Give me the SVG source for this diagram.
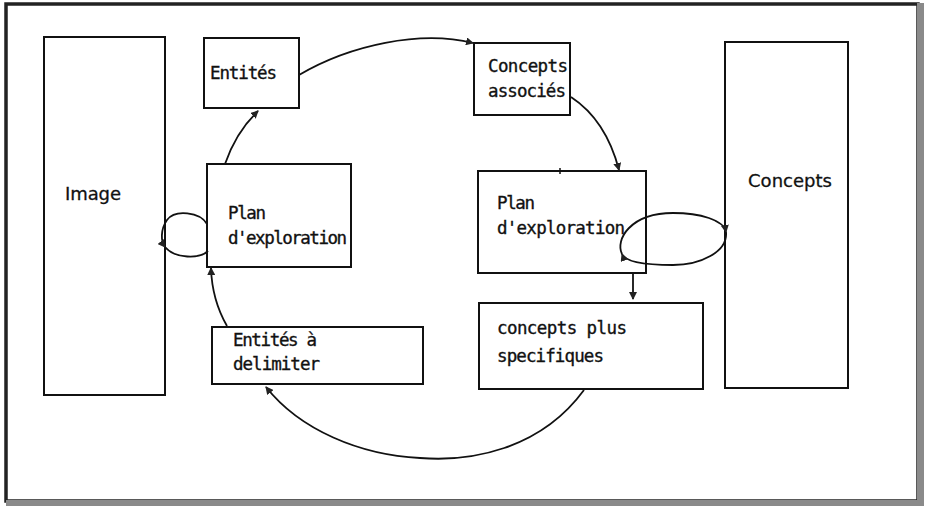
<svg xmlns="http://www.w3.org/2000/svg" width="926" height="508" viewBox="0 0 926 508">
<style>
.box{fill:#fff;stroke:#111;stroke-width:2}
.t{font-family:"DejaVu Sans Mono","Liberation Mono",monospace;font-size:17.5px;fill:#111;stroke:#111;stroke-width:0.35}
.tp{font-family:"DejaVu Sans","Liberation Sans",sans-serif;font-size:18px;fill:#111;stroke:#111;stroke-width:0.3}
.c{fill:none;stroke:#111;stroke-width:1.8}
</style>
<defs>
<marker id="ah" markerWidth="8" markerHeight="8" refX="7" refY="4" orient="auto" markerUnits="userSpaceOnUse">
<path d="M0,0 L8,4 L0,8 z" fill="#222"/>
</marker>
</defs>
<rect x="0" y="0" width="926" height="508" fill="#fff"/>
<g id="frame">
<rect x="6" y="4" width="912" height="497" fill="none" stroke="#222" stroke-width="3.5"/>
<rect x="917" y="3" width="7" height="502" fill="#8a8a8a"/>
<rect x="6" y="500" width="918" height="6" fill="#8a8a8a"/>
</g>
<g id="image"><rect class="box" x="44" y="37" width="121" height="358"/><text class="tp" x="65" y="200" textLength="56">Image</text></g>
<g id="entites"><rect class="box" x="204" y="38" width="95" height="70"/><text class="t" x="210" y="79" textLength="67">Entités</text></g>
<g id="plan-left"><rect class="box" x="207" y="164" width="144" height="103"/><text class="t" x="228" y="219" textLength="38">Plan</text><text class="t" x="228" y="244" textLength="119">d'exploration</text></g>
<g id="concepts-associes"><rect class="box" x="474" y="43" width="96" height="72"/><text class="t" x="488" y="72" textLength="80">Concepts</text><text class="t" x="488" y="97" textLength="78">associés</text></g>
<g id="plan-right"><rect class="box" x="478" y="171" width="168" height="102"/><line x1="560" y1="168" x2="560" y2="174" stroke="#111" stroke-width="1.5"/><text class="t" x="497" y="209" textLength="38">Plan</text><text class="t" x="497" y="234" textLength="128">d'exploration</text></g>
<g id="concepts"><rect class="box" x="725" y="42" width="123" height="346"/><text class="tp" x="748" y="187" textLength="84">Concepts</text></g>
<g id="concepts-plus"><rect class="box" x="479" y="303" width="224" height="86"/><text class="t" x="497" y="334" textLength="130">concepts plus</text><text class="t" x="497" y="362" textLength="107">specifiques</text></g>
<g id="entites-delimiter"><rect class="box" x="212" y="327" width="211" height="57"/><text class="t" x="233" y="346" textLength="84">Entités à</text><text class="t" x="233" y="370" textLength="87">delimiter</text></g>
<g id="connectors">
<path class="c" d="M225,164 Q236,132 258,111" marker-end="url(#ah)"/>
<path class="c" d="M299,75 C350,45 420,30 473,43" marker-end="url(#ah)"/>
<path class="c" d="M571,97 Q606,120 619,170" marker-end="url(#ah)"/>
<path class="c" d="M673,213 C700,213 724,220 726,232" marker-end="url(#ah)"/>
<path class="c" d="M726,232 C728,252 700,265 673,265 C645,265 625,262 622,254" marker-end="url(#ah)"/>
<path class="c" d="M622,254 C615,240 630,213 673,213"/>
<path class="c" d="M633,273 L633,299" marker-end="url(#ah)"/>
<path class="c" d="M584,390 C540,450 470,462 420,458 C360,455 300,430 266,387" marker-end="url(#ah)"/>
<path class="c" d="M227,326 Q212,300 211,268" marker-end="url(#ah)"/>
<path class="c" d="M207,224 C200,212 175,209 167,220 C160,230 161,242 165,247" marker-end="url(#ah)"/>
<path class="c" d="M165,247 C175,259 200,259 208,251"/>
</g>
</svg>
